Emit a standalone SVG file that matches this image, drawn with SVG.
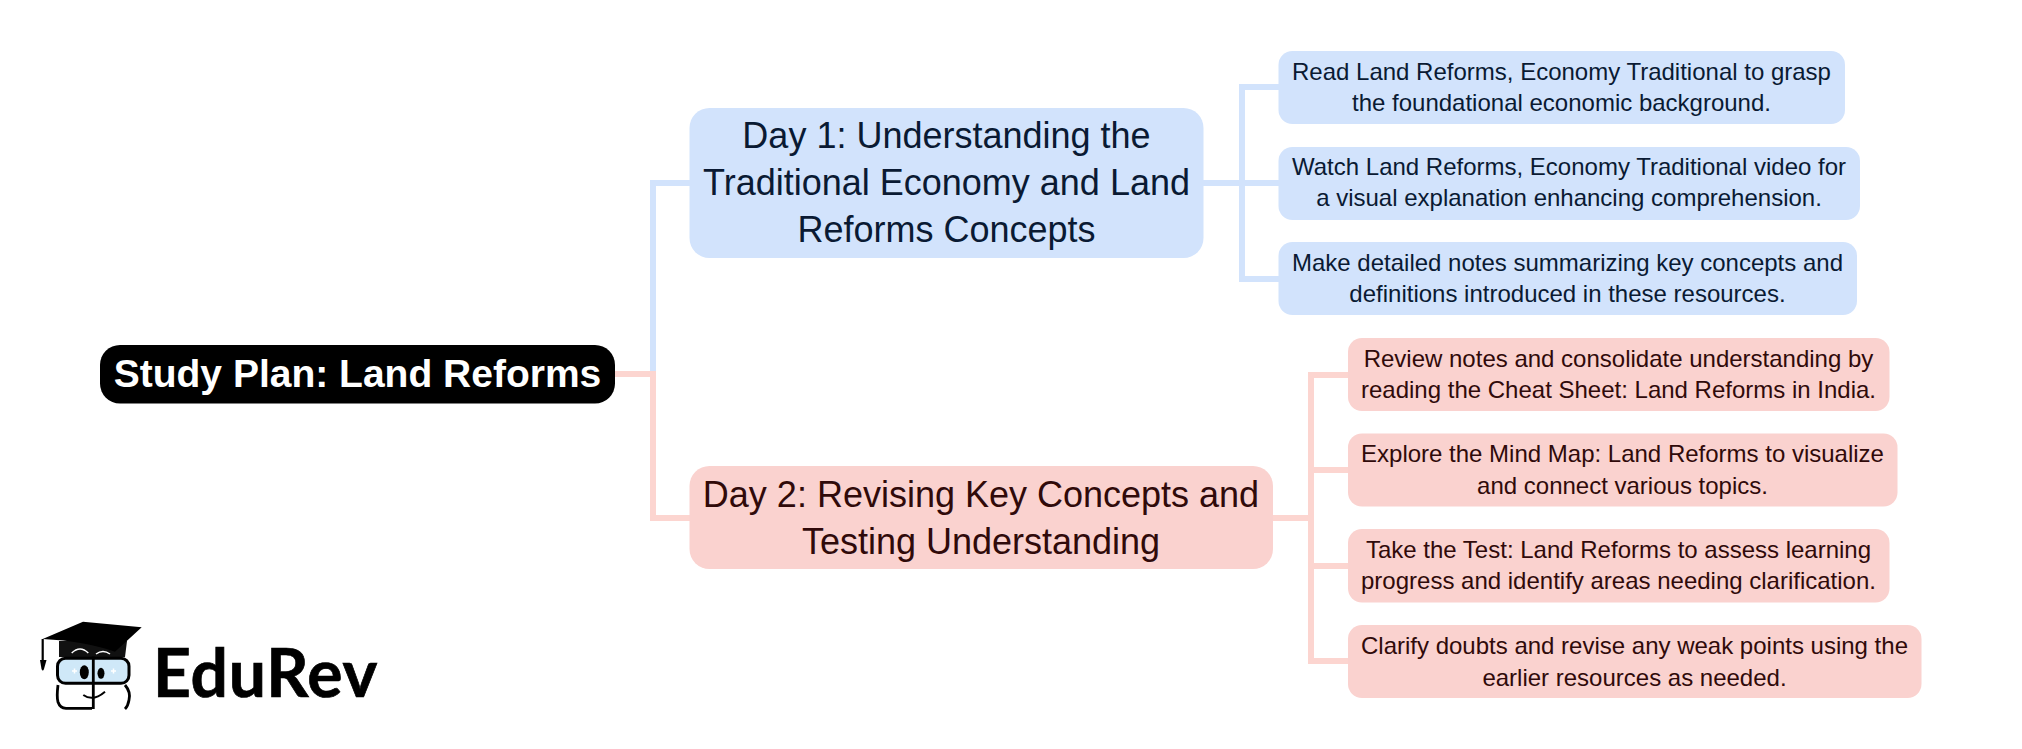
<svg xmlns="http://www.w3.org/2000/svg" width="2022" height="749" viewBox="0 0 2022 749">
<style>
text{font-family:"Liberation Sans",Arial,sans-serif;text-anchor:middle}
.root rect{fill:#000}.root text{fill:#fff;font-size:39px;font-weight:700}
.b rect{fill:#d2e3fc}.p rect{fill:#fad2cf}
.b text{fill:#0a1a33}.p text{fill:#300a0a}
.d text{font-size:36px}.c text{font-size:24px}
.cb,.cp{fill:none;stroke-width:6}
.cb{stroke:#d2e3fc}.cp{stroke:#fcd5d0}
</style>
<rect width="2022" height="749" fill="#fff"/>
<g id="connectors">
<path class="cb" d="M615 374H653V183H690"/>
<path class="cp" d="M615 374H653V518H690"/>
<path class="cb" d="M1203 183H1279M1242 183V87H1279M1242 183V279H1279"/>
<path class="cp" d="M1273 518H1311M1311 518V375H1349M1311 518V470H1349M1311 518V566H1349M1311 518V661H1349"/>
</g>
<g id="root" class="root"><rect x="100" y="345" width="515" height="58.500" rx="20"/><text x="357.500" y="387">Study Plan: Land Reforms</text></g>
<g id="day1" class="b d"><rect x="689.500" y="108" width="514" height="150" rx="20"/>
<text x="946.500" y="148">Day 1: Understanding the</text><text x="946.500" y="195">Traditional Economy and Land</text><text x="946.500" y="242">Reforms Concepts</text></g>
<g id="day2" class="p d"><rect x="689.500" y="466" width="583.500" height="103" rx="20"/>
<text x="981" y="506.500">Day 2: Revising Key Concepts and</text><text x="981" y="553.500">Testing Understanding</text></g>
<g id="b1" class="b c"><rect x="1278.500" y="51" width="566.500" height="73" rx="14"/>
<text x="1561.500" y="80">Read Land Reforms, Economy Traditional to grasp</text><text x="1561.500" y="111">the foundational economic background.</text></g>
<g id="b2" class="b c"><rect x="1278.500" y="147" width="581.500" height="73" rx="14"/>
<text x="1569" y="175">Watch Land Reforms, Economy Traditional video for</text><text x="1569" y="206">a visual explanation enhancing comprehension.</text></g>
<g id="b3" class="b c"><rect x="1278.500" y="242" width="578.500" height="73" rx="14"/>
<text x="1567.500" y="271">Make detailed notes summarizing key concepts and</text><text x="1567.500" y="302">definitions introduced in these resources.</text></g>
<g id="p1" class="p c"><rect x="1348" y="338" width="541.500" height="73" rx="14"/>
<text x="1618.500" y="367">Review notes and consolidate understanding by</text><text x="1618.500" y="398">reading the Cheat Sheet: Land Reforms in India.</text></g>
<g id="p2" class="p c"><rect x="1348" y="433.500" width="549.500" height="73" rx="14"/>
<text x="1622.500" y="462">Explore the Mind Map: Land Reforms to visualize</text><text x="1622.500" y="494">and connect various topics.</text></g>
<g id="p3" class="p c"><rect x="1348" y="529" width="541.500" height="73.500" rx="14"/>
<text x="1618.500" y="558">Take the Test: Land Reforms to assess learning</text><text x="1618.500" y="589">progress and identify areas needing clarification.</text></g>
<g id="p4" class="p c"><rect x="1348" y="625" width="573.500" height="73" rx="14"/>
<text x="1634.500" y="654">Clarify doubts and revise any weak points using the</text><text x="1634.500" y="686">earlier resources as needed.</text></g>
<g id="logo">
<path d="M59 641V657H125L127 641Z" fill="#111"/>
<path d="M71.700 653Q80 645 88.300 653M96 654Q103 649 110 654" fill="none" stroke="#fff" stroke-width="1.500"/>
<path d="M42.700 639L83 621.700L141.700 627.300L115 651.700Q85 641 42.700 639Z" fill="#000"/>
<path d="M42.700 639V661" stroke="#000" stroke-width="2.200" fill="none"/>
<path d="M40 660H46.500L44 669Q42.700 672 41.500 669Z" fill="#000"/>
<rect x="57.500" y="658.300" width="71.500" height="25" rx="8" fill="#cfe8f8" stroke="#000" stroke-width="3"/>
<path d="M58 685Q56.500 697 58 702Q60 708 66 708.300H92M125 685Q131 692 129 700Q128 706 125 709M93.300 656.500V709" fill="none" stroke="#000" stroke-width="2.800"/>
<ellipse cx="84.300" cy="672.300" rx="4.500" ry="7" fill="#000"/><ellipse cx="101" cy="673.300" rx="3.500" ry="5.500" fill="#000"/>
<path d="M83.300 695Q93 702 105 691.700" fill="none" stroke="#000" stroke-width="2"/>
<path d="M72 671H77M74.500 668.500V673.500M111 671H116M113.500 668.500V673.500" stroke="#fff" stroke-width="1.500"/>
<text x="153" y="696.500" style="font-family:Lato,'Noto Sans',sans-serif;font-size:66px;font-weight:700;fill:#000;stroke:#000;stroke-width:.7;letter-spacing:.8px;text-anchor:start">EduRev</text>
</g>
</svg>
